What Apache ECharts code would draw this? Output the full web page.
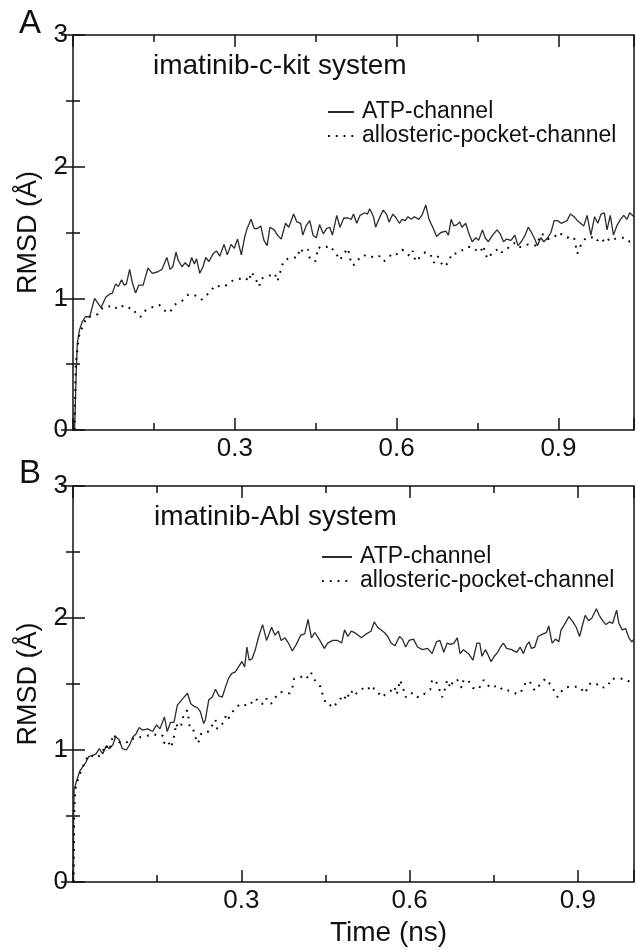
<!DOCTYPE html>
<html>
<head>
<meta charset="utf-8">
<script src="https://cdn.jsdelivr.net/npm/echarts@6/dist/echarts.min.js"></script>
<style>
  html, body { margin: 0; padding: 0; background: #fff; }
  #chart { width: 637px; height: 950px; }
</style>
</head>
<body>
<div id="chart"></div>
<script>
// tick labels shown on the time axis
const xTicks = [0.3, 0.6, 0.9];
const yTicks = [0, 1, 2, 3];

// panel A: imatinib-c-kit, [time (ns), RMSD (Å)]
const atpA = [[0.003,0],[0.006,0.45],[0.008,0.66],[0.012,0.76],[0.017,0.82],[0.023,0.86],[0.031,0.86],[0.040,1.00],[0.052,0.93],[0.061,1.01],[0.067,1.03],[0.073,1.04],[0.079,1.11],[0.084,1.09],[0.090,1.14],[0.095,1.10],[0.099,1.11],[0.105,1.22],[0.110,1.12],[0.116,1.04],[0.122,1.10],[0.130,1.10],[0.139,1.23],[0.147,1.19],[0.156,1.20],[0.165,1.22],[0.174,1.31],[0.180,1.22],[0.185,1.24],[0.191,1.35],[0.195,1.29],[0.202,1.24],[0.208,1.27],[0.215,1.24],[0.220,1.31],[0.225,1.26],[0.229,1.30],[0.235,1.19],[0.241,1.24],[0.246,1.31],[0.252,1.28],[0.260,1.34],[0.266,1.36],[0.272,1.32],[0.280,1.41],[0.286,1.33],[0.293,1.41],[0.299,1.38],[0.305,1.45],[0.312,1.33],[0.318,1.46],[0.322,1.52],[0.330,1.60],[0.336,1.53],[0.342,1.53],[0.348,1.55],[0.354,1.44],[0.360,1.40],[0.365,1.54],[0.373,1.52],[0.379,1.48],[0.386,1.45],[0.394,1.57],[0.400,1.54],[0.409,1.64],[0.415,1.58],[0.422,1.57],[0.426,1.48],[0.432,1.55],[0.439,1.59],[0.445,1.48],[0.451,1.46],[0.457,1.56],[0.464,1.49],[0.470,1.53],[0.476,1.54],[0.481,1.48],[0.489,1.63],[0.495,1.54],[0.502,1.61],[0.510,1.61],[0.516,1.60],[0.520,1.64],[0.526,1.57],[0.532,1.63],[0.541,1.65],[0.546,1.64],[0.550,1.68],[0.557,1.62],[0.561,1.54],[0.569,1.62],[0.575,1.67],[0.581,1.64],[0.586,1.58],[0.593,1.64],[0.599,1.61],[0.605,1.57],[0.610,1.60],[0.616,1.59],[0.621,1.62],[0.627,1.60],[0.633,1.62],[0.641,1.60],[0.648,1.64],[0.654,1.71],[0.660,1.60],[0.668,1.53],[0.674,1.47],[0.682,1.50],[0.691,1.51],[0.696,1.48],[0.701,1.60],[0.706,1.55],[0.712,1.56],[0.717,1.58],[0.721,1.54],[0.728,1.57],[0.734,1.49],[0.740,1.43],[0.747,1.46],[0.752,1.44],[0.759,1.52],[0.764,1.46],[0.770,1.43],[0.778,1.48],[0.786,1.52],[0.792,1.49],[0.798,1.43],[0.804,1.45],[0.812,1.44],[0.819,1.48],[0.825,1.40],[0.831,1.43],[0.837,1.47],[0.844,1.54],[0.850,1.50],[0.856,1.45],[0.861,1.40],[0.867,1.46],[0.873,1.43],[0.880,1.46],[0.886,1.50],[0.892,1.59],[0.898,1.59],[0.905,1.57],[0.911,1.58],[0.916,1.59],[0.922,1.64],[0.929,1.62],[0.935,1.59],[0.941,1.57],[0.947,1.55],[0.953,1.63],[0.960,1.48],[0.967,1.62],[0.973,1.57],[0.979,1.64],[0.985,1.65],[0.990,1.52],[0.996,1.63],[1.002,1.48],[1.008,1.55],[1.015,1.60],[1.021,1.63],[1.027,1.60],[1.032,1.65],[1.040,1.62]];
const alloA = [[0.003,0],[0.005,0.50],[0.011,0.71],[0.019,0.80],[0.026,0.86],[0.035,0.86],[0.046,0.88],[0.055,0.93],[0.067,0.94],[0.073,0.92],[0.082,0.93],[0.089,0.95],[0.095,0.93],[0.101,0.92],[0.107,0.93],[0.113,0.91],[0.119,0.87],[0.125,0.86],[0.131,0.90],[0.145,0.93],[0.160,0.95],[0.168,0.91],[0.179,0.89],[0.188,0.95],[0.202,0.98],[0.214,1.03],[0.229,1.02],[0.239,0.99],[0.254,1.05],[0.264,1.10],[0.272,1.09],[0.281,1.09],[0.293,1.13],[0.302,1.14],[0.318,1.16],[0.327,1.13],[0.330,1.20],[0.336,1.17],[0.345,1.09],[0.349,1.15],[0.363,1.17],[0.374,1.19],[0.379,1.13],[0.385,1.21],[0.390,1.28],[0.398,1.30],[0.408,1.31],[0.417,1.31],[0.420,1.38],[0.428,1.35],[0.436,1.37],[0.439,1.30],[0.449,1.28],[0.455,1.39],[0.459,1.38],[0.464,1.38],[0.476,1.40],[0.486,1.35],[0.495,1.29],[0.502,1.34],[0.510,1.38],[0.513,1.31],[0.518,1.25],[0.524,1.26],[0.533,1.32],[0.547,1.33],[0.557,1.31],[0.563,1.31],[0.568,1.32],[0.576,1.28],[0.590,1.33],[0.596,1.32],[0.610,1.37],[0.618,1.35],[0.624,1.32],[0.630,1.36],[0.635,1.28],[0.653,1.35],[0.663,1.33],[0.669,1.27],[0.676,1.32],[0.682,1.27],[0.689,1.24],[0.697,1.28],[0.702,1.34],[0.712,1.34],[0.731,1.39],[0.740,1.39],[0.749,1.36],[0.755,1.35],[0.761,1.40],[0.764,1.34],[0.769,1.30],[0.776,1.34],[0.790,1.38],[0.795,1.35],[0.804,1.37],[0.810,1.40],[0.819,1.42],[0.825,1.39],[0.831,1.39],[0.844,1.41],[0.859,1.40],[0.868,1.49],[0.874,1.48],[0.880,1.45],[0.891,1.46],[0.900,1.50],[0.908,1.48],[0.916,1.46],[0.923,1.47],[0.929,1.46],[0.935,1.34],[0.942,1.41],[0.951,1.46],[0.960,1.46],[0.966,1.47],[0.972,1.44],[0.978,1.46],[0.987,1.42],[0.996,1.46],[1.002,1.45],[1.015,1.46],[1.024,1.46],[1.032,1.43],[1.040,1.45]];

// panel B: imatinib-Abl
const atpB = [[0.001,0],[0.001,0.49],[0.002,0.70],[0.006,0.76],[0.012,0.84],[0.022,0.90],[0.028,0.95],[0.036,0.96],[0.041,0.97],[0.047,1.01],[0.053,0.97],[0.059,1.03],[0.065,1.01],[0.071,1.04],[0.076,1.10],[0.082,1.08],[0.088,1.01],[0.095,1.00],[0.101,1.04],[0.107,1.10],[0.112,1.12],[0.118,1.17],[0.124,1.15],[0.133,1.16],[0.142,1.14],[0.149,1.19],[0.155,1.16],[0.163,1.25],[0.168,1.14],[0.174,1.21],[0.180,1.21],[0.186,1.34],[0.192,1.37],[0.198,1.40],[0.204,1.43],[0.210,1.35],[0.216,1.33],[0.222,1.32],[0.227,1.29],[0.233,1.20],[0.236,1.23],[0.242,1.38],[0.248,1.40],[0.254,1.46],[0.260,1.41],[0.266,1.40],[0.272,1.48],[0.277,1.54],[0.283,1.58],[0.289,1.59],[0.295,1.63],[0.301,1.67],[0.306,1.63],[0.310,1.78],[0.314,1.68],[0.319,1.69],[0.325,1.76],[0.331,1.86],[0.338,1.95],[0.345,1.83],[0.354,1.93],[0.360,1.87],[0.366,1.90],[0.371,1.83],[0.378,1.85],[0.384,1.81],[0.391,1.75],[0.398,1.80],[0.406,1.87],[0.413,1.88],[0.419,1.99],[0.425,1.85],[0.431,1.89],[0.440,1.83],[0.448,1.77],[0.454,1.81],[0.463,1.83],[0.472,1.83],[0.479,1.81],[0.484,1.91],[0.490,1.86],[0.496,1.90],[0.502,1.89],[0.514,1.85],[0.523,1.88],[0.531,1.90],[0.537,1.97],[0.543,1.93],[0.555,1.89],[0.561,1.86],[0.567,1.81],[0.574,1.79],[0.582,1.86],[0.587,1.84],[0.593,1.78],[0.599,1.83],[0.607,1.84],[0.614,1.78],[0.623,1.76],[0.632,1.77],[0.640,1.73],[0.648,1.82],[0.654,1.83],[0.661,1.74],[0.667,1.81],[0.673,1.80],[0.679,1.81],[0.685,1.85],[0.690,1.73],[0.696,1.76],[0.705,1.73],[0.713,1.68],[0.720,1.81],[0.725,1.81],[0.729,1.71],[0.735,1.76],[0.739,1.73],[0.745,1.67],[0.751,1.71],[0.757,1.74],[0.762,1.78],[0.767,1.81],[0.773,1.77],[0.782,1.76],[0.791,1.74],[0.797,1.78],[0.803,1.73],[0.808,1.79],[0.813,1.82],[0.817,1.77],[0.823,1.78],[0.829,1.86],[0.838,1.88],[0.844,1.89],[0.848,1.94],[0.854,1.81],[0.860,1.84],[0.866,1.82],[0.870,1.91],[0.876,1.95],[0.884,2.01],[0.891,1.97],[0.897,1.93],[0.903,1.86],[0.909,1.96],[0.913,2.02],[0.919,1.98],[0.925,2.00],[0.933,2.07],[0.938,2.02],[0.944,1.98],[0.950,1.95],[0.956,1.97],[0.962,1.96],[0.969,2.06],[0.973,1.96],[0.979,1.91],[0.985,1.92],[0.991,1.85],[0.996,1.82],[1.000,1.84]];
const alloB = [[0.001,0],[0.002,0.50],[0.004,0.70],[0.009,0.78],[0.015,0.85],[0.027,0.96],[0.033,0.96],[0.042,0.94],[0.051,0.97],[0.058,1.04],[0.065,1.00],[0.072,1.12],[0.082,1.06],[0.094,1.05],[0.104,1.09],[0.112,1.08],[0.121,1.10],[0.136,1.11],[0.145,1.12],[0.154,1.10],[0.160,1.11],[0.163,1.05],[0.168,1.07],[0.176,1.02],[0.177,1.06],[0.182,1.13],[0.183,1.20],[0.188,1.17],[0.192,1.17],[0.198,1.28],[0.204,1.30],[0.206,1.24],[0.208,1.17],[0.214,1.16],[0.219,1.09],[0.223,1.05],[0.229,1.13],[0.242,1.14],[0.254,1.23],[0.257,1.16],[0.269,1.21],[0.273,1.27],[0.277,1.24],[0.282,1.27],[0.286,1.30],[0.298,1.35],[0.307,1.34],[0.316,1.34],[0.322,1.39],[0.328,1.38],[0.333,1.35],[0.342,1.35],[0.345,1.39],[0.353,1.35],[0.366,1.43],[0.373,1.44],[0.381,1.43],[0.386,1.43],[0.391,1.47],[0.394,1.54],[0.406,1.55],[0.410,1.57],[0.418,1.55],[0.424,1.59],[0.429,1.54],[0.441,1.48],[0.445,1.42],[0.450,1.36],[0.454,1.36],[0.463,1.32],[0.477,1.39],[0.483,1.37],[0.487,1.43],[0.493,1.40],[0.498,1.45],[0.503,1.42],[0.511,1.45],[0.518,1.47],[0.526,1.48],[0.529,1.45],[0.533,1.47],[0.540,1.46],[0.550,1.40],[0.567,1.45],[0.573,1.48],[0.577,1.42],[0.583,1.53],[0.589,1.46],[0.593,1.40],[0.599,1.43],[0.607,1.43],[0.614,1.40],[0.619,1.42],[0.625,1.42],[0.632,1.45],[0.637,1.46],[0.640,1.53],[0.646,1.53],[0.652,1.47],[0.658,1.40],[0.661,1.43],[0.667,1.53],[0.673,1.47],[0.678,1.53],[0.685,1.53],[0.693,1.47],[0.696,1.53],[0.704,1.53],[0.713,1.47],[0.723,1.46],[0.732,1.53],[0.744,1.47],[0.758,1.49],[0.767,1.45],[0.776,1.45],[0.785,1.44],[0.792,1.42],[0.800,1.45],[0.808,1.52],[0.814,1.52],[0.823,1.45],[0.842,1.54],[0.847,1.52],[0.856,1.46],[0.864,1.40],[0.870,1.44],[0.876,1.47],[0.884,1.48],[0.890,1.48],[0.902,1.48],[0.913,1.43],[0.920,1.50],[0.931,1.51],[0.941,1.47],[0.953,1.48],[0.959,1.54],[0.965,1.54],[0.976,1.54],[0.984,1.54],[0.991,1.52],[0.996,1.50]];

const FONT = '"Liberation Sans", Arial, Helvetica, sans-serif';
const INK = '#111';

const chart = echarts.init(document.getElementById('chart'));

// one time axis; major ticks every 0.3, helper axes add the 0.15 minor ticks
function timeAxis(grid, max, position, step, len, labels) {
  return {
    type: 'value', gridIndex: grid, position: position,
    min: 0, max: max, interval: step,
    axisLine: { show: false },
    splitLine: { show: false },
    axisTick: { show: true, inside: true, length: len, lineStyle: { color: INK, width: 1.5 } },
    axisLabel: {
      show: labels, fontSize: 26, color: INK, fontFamily: FONT, margin: 6,
      formatter: v => xTicks.some(t => Math.abs(t - v) < 1e-6) ? v.toFixed(1) : ''
    }
  };
}
function rmsdAxis(grid, position, labels) {
  return {
    type: 'value', gridIndex: grid, position: position,
    min: yTicks[0], max: yTicks[yTicks.length - 1], interval: 1,
    name: labels ? 'RMSD (Å)' : '',
    nameLocation: 'middle', nameRotate: 90, nameGap: 31,
    nameTextStyle: { fontSize: 27, color: INK, fontFamily: FONT },
    axisLine: { show: false },
    splitLine: { show: false },
    axisTick: { show: true, inside: true, length: 12, lineStyle: { color: INK, width: 1.5 } },
    minorTick: { show: true, splitNumber: 2, length: 7, lineStyle: { color: INK, width: 1.5 } },
    axisLabel: { show: labels, fontSize: 26, color: INK, fontFamily: FONT, margin: 5 }
  };
}
function solid(name, data, xi, yi) {
  return { name, type: 'line', data, xAxisIndex: xi, yAxisIndex: yi,
    symbol: 'none', showSymbol: false, silent: true,
    itemStyle: { color: '#2b2b2b' },
    lineStyle: { color: '#2b2b2b', width: 1.3 } };
}
function dotted(name, data, xi, yi) {
  return { name, type: 'line', data, xAxisIndex: xi, yAxisIndex: yi,
    symbol: 'none', showSymbol: false, silent: true,
    itemStyle: { color: '#000' },
    lineStyle: { color: '#000', width: 2, type: [1.8, 6] } };
}
const titleStyle = size => ({ fontSize: size, fontWeight: 'normal', color: INK, fontFamily: FONT });
const legendNames = ['ATP-channel', 'allosteric-pocket-channel'];
const legendText = { fontSize: 23, color: INK, fontFamily: FONT, lineHeight: 24, padding: [0, 0, 0, 3] };

const option = {
  animation: false,
  backgroundColor: '#fff',
  title: [
    { text: 'A', left: 19, top: 7, padding: 0, textStyle: titleStyle(33) },
    { text: 'imatinib-c-kit system', left: 153, top: 52, padding: 0, textStyle: titleStyle(28) },
    { text: 'B', left: 19, top: 457, padding: 0, textStyle: titleStyle(33) },
    { text: 'imatinib-Abl system', left: 154, top: 503, padding: 0, textStyle: titleStyle(28) },
    { text: 'Time (ns)', left: 330, top: 919, padding: 0, textStyle: titleStyle(28) }
  ],
  legend: [
    { data: legendNames, orient: 'vertical', left: 327, top: 100, padding: 0,
      itemWidth: 26, itemHeight: 10, itemGap: 0,
      itemStyle: { opacity: 0 }, textStyle: legendText },
    { data: legendNames, orient: 'vertical', left: 321, top: 545, padding: 0,
      itemWidth: 30, itemHeight: 10, itemGap: 0,
      itemStyle: { opacity: 0 }, textStyle: legendText }
  ],
  grid: [
    { left: 73, top: 35, width: 567, height: 395, show: true, borderColor: INK, borderWidth: 1.5 },
    { left: 73, top: 486, width: 563, height: 396, show: true, borderColor: INK, borderWidth: 1.5 }
  ],
  xAxis: [
    timeAxis(0, 1.04, 'bottom', 0.3, 12, true),
    timeAxis(0, 1.04, 'bottom', 0.15, 7, false),
    timeAxis(0, 1.04, 'top', 0.3, 12, false),
    timeAxis(0, 1.04, 'top', 0.15, 7, false),
    timeAxis(1, 1.0, 'bottom', 0.3, 12, true),
    timeAxis(1, 1.0, 'bottom', 0.15, 7, false),
    timeAxis(1, 1.0, 'top', 0.3, 12, false),
    timeAxis(1, 1.0, 'top', 0.15, 7, false)
  ],
  yAxis: [
    rmsdAxis(0, 'left', true),
    rmsdAxis(0, 'right', false),
    rmsdAxis(1, 'left', true),
    rmsdAxis(1, 'right', false)
  ],
  series: [
    solid('ATP-channel', atpA, 0, 0),
    dotted('allosteric-pocket-channel', alloA, 0, 0),
    solid('ATP-channel', atpB, 4, 2),
    dotted('allosteric-pocket-channel', alloB, 4, 2)
  ]
};

chart.setOption(option);
</script>
</body>
</html>
